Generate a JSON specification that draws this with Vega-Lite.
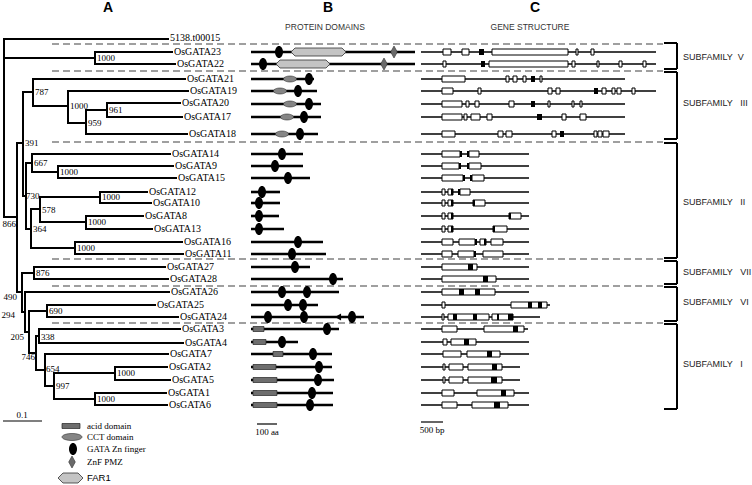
{
"$schema":"https://vega.github.io/schema/vega-lite/v6.json",
"width":752,"height":485,
"autosize":{"type":"fit","contains":"padding"},
"padding":0,
"background":"white",
"config":{"view":{"stroke":null}},
"datasets":{
"sep":[{"y":44,"x":52,"x2":663},{"y":71,"x":52,"x2":663},{"y":142,"x":52,"x2":663},{"y":259,"x":52,"x2":663},{"y":286,"x":52,"x2":663},{"y":323,"x":52,"x2":663}],
"th":[{"y":39,"x":4,"x2":168},{"y":58,"x":4,"x2":95},{"y":52,"x":95,"x2":172},{"y":64,"x":95,"x2":175},{"y":217,"x":4,"x2":17},{"y":143,"x":17,"x2":23},{"y":92,"x":23,"x2":33},{"y":79,"x":33,"x2":185},{"y":106,"x":33,"x2":68},{"y":91,"x":68,"x2":188},{"y":123,"x":68,"x2":86},{"y":110,"x":86,"x2":107},{"y":103,"x":107,"x2":180},{"y":117,"x":107,"x2":182},{"y":134,"x":86,"x2":187},{"y":196,"x":23,"x2":26},{"y":163,"x":26,"x2":32},{"y":154,"x":32,"x2":170},{"y":172,"x":32,"x2":58},{"y":166,"x":58,"x2":173},{"y":178,"x":58,"x2":176},{"y":229,"x":26,"x2":31},{"y":209,"x":31,"x2":40},{"y":197,"x":40,"x2":100},{"y":192,"x":100,"x2":147},{"y":203,"x":100,"x2":151},{"y":222,"x":40,"x2":86},{"y":216,"x":86,"x2":143},{"y":229,"x":86,"x2":152},{"y":248,"x":31,"x2":75},{"y":242,"x":75,"x2":182},{"y":254,"x":75,"x2":183},{"y":292,"x":17,"x2":22},{"y":273,"x":22,"x2":34},{"y":267,"x":34,"x2":165},{"y":279,"x":34,"x2":168},{"y":312,"x":22,"x2":25},{"y":292,"x":25,"x2":169},{"y":332,"x":25,"x2":29},{"y":311,"x":29,"x2":47},{"y":305,"x":47,"x2":155},{"y":317,"x":47,"x2":178},{"y":353,"x":29,"x2":36},{"y":336,"x":36,"x2":39},{"y":329,"x":39,"x2":180},{"y":343,"x":39,"x2":183},{"y":370,"x":36,"x2":45},{"y":354,"x":45,"x2":168},{"y":386,"x":45,"x2":54},{"y":373,"x":54,"x2":115},{"y":367,"x":115,"x2":167},{"y":380,"x":115,"x2":170},{"y":399,"x":54,"x2":95},{"y":393,"x":95,"x2":166},{"y":405,"x":95,"x2":167}],
"tv":[{"x":4,"y":39,"y2":217},{"x":95,"y":52,"y2":64},{"x":17,"y":143,"y2":292},{"x":23,"y":92,"y2":196},{"x":33,"y":79,"y2":106},{"x":68,"y":91,"y2":123},{"x":86,"y":110,"y2":134},{"x":107,"y":103,"y2":117},{"x":26,"y":163,"y2":229},{"x":32,"y":154,"y2":172},{"x":58,"y":166,"y2":178},{"x":31,"y":209,"y2":248},{"x":40,"y":197,"y2":222},{"x":100,"y":192,"y2":203},{"x":86,"y":216,"y2":229},{"x":75,"y":242,"y2":254},{"x":22,"y":273,"y2":312},{"x":34,"y":267,"y2":279},{"x":25,"y":292,"y2":332},{"x":29,"y":311,"y2":353},{"x":47,"y":305,"y2":317},{"x":36,"y":336,"y2":370},{"x":39,"y":329,"y2":343},{"x":45,"y":354,"y2":386},{"x":54,"y":373,"y2":399},{"x":115,"y":367,"y2":380},{"x":95,"y":393,"y2":405}],
"taxa":[{"t":"5138.t00015","x":170,"y":38},{"t":"OsGATA23","x":174,"y":52},{"t":"OsGATA22","x":177,"y":64},{"t":"OsGATA21","x":187,"y":79},{"t":"OsGATA19","x":190,"y":91},{"t":"OsGATA20","x":182,"y":103},{"t":"OsGATA17","x":184,"y":117},{"t":"OsGATA18","x":189,"y":134},{"t":"OsGATA14","x":172,"y":154},{"t":"OsGATA9","x":175,"y":166},{"t":"OsGATA15","x":178,"y":178},{"t":"OsGATA12","x":149,"y":192},{"t":"OsGATA10","x":153,"y":203},{"t":"OsGATA8","x":145,"y":216},{"t":"OsGATA13","x":154,"y":229},{"t":"OsGATA16","x":184,"y":242},{"t":"OsGATA11","x":185,"y":254},{"t":"OsGATA27","x":167,"y":267},{"t":"OsGATA28","x":170,"y":279},{"t":"OsGATA26","x":171,"y":292},{"t":"OsGATA25","x":157,"y":305},{"t":"OsGATA24","x":180,"y":317},{"t":"OsGATA3","x":182,"y":329},{"t":"OsGATA4","x":185,"y":343},{"t":"OsGATA7","x":170,"y":354},{"t":"OsGATA2","x":169,"y":367},{"t":"OsGATA5","x":172,"y":380},{"t":"OsGATA1","x":168,"y":393},{"t":"OsGATA6","x":169,"y":405}],
"bootL":[{"t":"1000","x":97,"y":58},{"t":"787","x":35,"y":92},{"t":"1000","x":70,"y":106},{"t":"961","x":109,"y":110},{"t":"959","x":88,"y":123},{"t":"391","x":25,"y":143},{"t":"667","x":34,"y":163},{"t":"1000","x":60,"y":172},{"t":"730","x":26,"y":196},{"t":"1000","x":102,"y":197},{"t":"578","x":42,"y":210},{"t":"1000","x":88,"y":222},{"t":"364","x":33,"y":229},{"t":"1000","x":77,"y":248},{"t":"876","x":36,"y":273},{"t":"690","x":49,"y":311},{"t":"338","x":41,"y":337},{"t":"654","x":46,"y":369},{"t":"997","x":56,"y":386},{"t":"1000","x":117,"y":373},{"t":"1000","x":97,"y":399}],
"bootR":[{"t":"866","x":16,"y":224},{"t":"490","x":17,"y":297},{"t":"294","x":15,"y":315},{"t":"205","x":24,"y":337},{"t":"746","x":35,"y":357}],
"pl":[{"y":52,"x":251,"x2":415},{"y":64,"x":251,"x2":415},{"y":79,"x":251,"x2":314},{"y":91,"x":251,"x2":317},{"y":104,"x":251,"x2":321},{"y":117,"x":251,"x2":321},{"y":134,"x":251,"x2":318},{"y":154,"x":251,"x2":303},{"y":166,"x":251,"x2":303},{"y":178,"x":251,"x2":310},{"y":192,"x":251,"x2":280},{"y":203,"x":251,"x2":280},{"y":216,"x":251,"x2":279},{"y":229,"x":251,"x2":284},{"y":242,"x":251,"x2":323},{"y":254,"x":251,"x2":326},{"y":267,"x":251,"x2":310},{"y":279,"x":251,"x2":343},{"y":292,"x":251,"x2":339},{"y":305,"x":251,"x2":318},{"y":317,"x":251,"x2":364},{"y":329,"x":251,"x2":339},{"y":342,"x":251,"x2":298},{"y":354,"x":251,"x2":332},{"y":367,"x":251,"x2":332},{"y":380,"x":251,"x2":334},{"y":393,"x":251,"x2":333},{"y":405,"x":251,"x2":333}],
"acid":[{"y":329,"x":253,"x2":264},{"y":342,"x":253,"x2":266},{"y":354,"x":273,"x2":283},{"y":367,"x":253,"x2":276},{"y":380,"x":253,"x2":277},{"y":393,"x":253,"x2":277},{"y":405,"x":253,"x2":277},{"y":426,"x":62,"x2":80}],
"far":[{"g":"OsGATA23","x":291,"y":52,"y2":52},{"g":"OsGATA23","x":295,"y":48,"y2":56},{"g":"OsGATA23","x":342,"y":48,"y2":56},{"g":"OsGATA23","x":346,"y":52,"y2":52},{"g":"OsGATA22","x":276,"y":64,"y2":64},{"g":"OsGATA22","x":280,"y":60,"y2":68},{"g":"OsGATA22","x":326,"y":60,"y2":68},{"g":"OsGATA22","x":330,"y":64,"y2":64},{"g":"legend","x":58,"y":478,"y2":478},{"g":"legend","x":63,"y":473,"y2":483},{"g":"legend","x":78,"y":473,"y2":483},{"g":"legend","x":83,"y":478,"y2":478}],
"sym":[{"k":"cct","x":290,"y":79},{"k":"cct","x":280,"y":91},{"k":"cct","x":290,"y":104},{"k":"cct","x":287,"y":117},{"k":"cct","x":282,"y":134},{"k":"cctL","x":72,"y":437},
{"k":"gata","x":279,"y":52},{"k":"gata","x":263,"y":64},{"k":"gata","x":309,"y":79},{"k":"gata","x":298,"y":91},{"k":"gata","x":309,"y":104},{"k":"gata","x":304,"y":117},{"k":"gata","x":300,"y":134},{"k":"gata","x":282,"y":154},{"k":"gata","x":275,"y":166},{"k":"gata","x":288,"y":178},{"k":"gata","x":262,"y":192},{"k":"gata","x":259,"y":203},{"k":"gata","x":259,"y":216},{"k":"gata","x":259,"y":229},{"k":"gata","x":298,"y":242},{"k":"gata","x":292,"y":254},{"k":"gata","x":295,"y":267},{"k":"gata","x":333,"y":279},{"k":"gata","x":282,"y":292},{"k":"gata","x":307,"y":292},{"k":"gata","x":288,"y":305},{"k":"gata","x":303,"y":305},{"k":"gata","x":268,"y":317},{"k":"gata","x":304,"y":317},{"k":"gata","x":352,"y":317},{"k":"gata","x":327,"y":329},{"k":"gata","x":282,"y":342},{"k":"gata","x":313,"y":354},{"k":"gata","x":319,"y":367},{"k":"gata","x":318,"y":380},{"k":"gata","x":312,"y":393},{"k":"gata","x":310,"y":405},{"k":"gata","x":73,"y":449},
{"k":"pmz","x":394,"y":52},{"k":"pmz","x":384,"y":64},{"k":"pmz","x":72,"y":462},
{"k":"tri","x":338,"y":317}],
"gl":[{"y":52,"x":421,"x2":656},{"y":64,"x":421,"x2":656},{"y":79,"x":421,"x2":625},{"y":91,"x":421,"x2":656},{"y":104,"x":421,"x2":625},{"y":117,"x":421,"x2":625},{"y":134,"x":421,"x2":625},{"y":154,"x":421,"x2":529},{"y":166,"x":421,"x2":529},{"y":178,"x":421,"x2":529},{"y":192,"x":421,"x2":529},{"y":203,"x":421,"x2":529},{"y":216,"x":421,"x2":529},{"y":229,"x":421,"x2":529},{"y":242,"x":421,"x2":529},{"y":254,"x":421,"x2":529},{"y":267,"x":421,"x2":529},{"y":279,"x":421,"x2":529},{"y":292,"x":421,"x2":529},{"y":305,"x":421,"x2":550},{"y":317,"x":421,"x2":540},{"y":329,"x":421,"x2":528},{"y":342,"x":421,"x2":529},{"y":354,"x":421,"x2":529},{"y":367,"x":421,"x2":520},{"y":380,"x":421,"x2":520},{"y":393,"x":421,"x2":529},{"y":405,"x":421,"x2":529}],
"ew":[{"y":52,"x":443,"x2":451},{"y":52,"x":462,"x2":469},{"y":52,"x":492,"x2":568},{"y":52,"x":576,"x2":578},{"y":52,"x":591,"x2":594},
{"y":64,"x":443,"x2":446},{"y":64,"x":489,"x2":568},{"y":64,"x":572,"x2":575},{"y":64,"x":597,"x2":599},{"y":64,"x":619,"x2":622},{"y":64,"x":643,"x2":646},
{"y":79,"x":442,"x2":465},{"y":79,"x":506,"x2":509},{"y":79,"x":513,"x2":517},{"y":79,"x":523,"x2":526},{"y":79,"x":540,"x2":542},
{"y":91,"x":442,"x2":453},{"y":91,"x":478,"x2":481},{"y":91,"x":548,"x2":552},{"y":91,"x":556,"x2":560},{"y":91,"x":602,"x2":606},{"y":91,"x":612,"x2":615},{"y":91,"x":617,"x2":621},{"y":91,"x":632,"x2":635},
{"y":104,"x":442,"x2":462},{"y":104,"x":466,"x2":469},{"y":104,"x":475,"x2":479},{"y":104,"x":509,"x2":514},{"y":104,"x":548,"x2":550},{"y":104,"x":572,"x2":574},{"y":104,"x":580,"x2":582},
{"y":117,"x":442,"x2":462},{"y":117,"x":464,"x2":467},{"y":117,"x":471,"x2":480},{"y":117,"x":487,"x2":492},{"y":117,"x":562,"x2":566},{"y":117,"x":580,"x2":586},
{"y":134,"x":442,"x2":455},{"y":134,"x":498,"x2":503},{"y":134,"x":506,"x2":512},{"y":134,"x":552,"x2":556},{"y":134,"x":594,"x2":597},{"y":134,"x":598,"x2":602},{"y":134,"x":603,"x2":609},
{"y":154,"x":442,"x2":460},{"y":154,"x":469,"x2":479},
{"y":166,"x":442,"x2":459},{"y":166,"x":469,"x2":481},
{"y":178,"x":442,"x2":463},{"y":178,"x":472,"x2":484},
{"y":192,"x":442,"x2":445},{"y":192,"x":448,"x2":453},{"y":192,"x":460,"x2":470},
{"y":203,"x":442,"x2":445},{"y":203,"x":448,"x2":453},{"y":203,"x":473,"x2":485},
{"y":216,"x":442,"x2":445},{"y":216,"x":448,"x2":453},{"y":216,"x":509,"x2":521},
{"y":229,"x":442,"x2":445},{"y":229,"x":448,"x2":453},{"y":229,"x":493,"x2":507},
{"y":242,"x":442,"x2":453},{"y":242,"x":459,"x2":475},{"y":242,"x":480,"x2":486},{"y":242,"x":491,"x2":503},
{"y":254,"x":442,"x2":452},{"y":254,"x":458,"x2":474},{"y":254,"x":483,"x2":503},
{"y":267,"x":442,"x2":477},{"y":279,"x":442,"x2":496},{"y":292,"x":442,"x2":495},
{"y":305,"x":442,"x2":445},{"y":305,"x":511,"x2":547},
{"y":317,"x":442,"x2":444},{"y":317,"x":448,"x2":489},{"y":317,"x":492,"x2":513},
{"y":329,"x":442,"x2":457},{"y":329,"x":484,"x2":524},
{"y":342,"x":443,"x2":447},{"y":342,"x":451,"x2":476},
{"y":354,"x":443,"x2":461},{"y":354,"x":467,"x2":500},
{"y":367,"x":443,"x2":445},{"y":367,"x":449,"x2":463},{"y":367,"x":468,"x2":502},
{"y":380,"x":443,"x2":445},{"y":380,"x":449,"x2":463},{"y":380,"x":468,"x2":502},
{"y":393,"x":442,"x2":454},{"y":393,"x":477,"x2":514},
{"y":405,"x":442,"x2":457},{"y":405,"x":472,"x2":508}],
"eb":[{"y":52,"x":479,"x2":484},{"y":64,"x":481,"x2":485},{"y":79,"x":531,"x2":535},{"y":91,"x":594,"x2":598},{"y":104,"x":531,"x2":535},{"y":117,"x":537,"x2":542},{"y":134,"x":560,"x2":564},
{"y":154,"x":460,"x2":462},{"y":154,"x":467,"x2":469},{"y":166,"x":459,"x2":461},{"y":166,"x":467,"x2":469},{"y":178,"x":463,"x2":465},{"y":178,"x":470,"x2":472},
{"y":192,"x":451,"x2":453},{"y":192,"x":458,"x2":460},{"y":203,"x":451,"x2":453},{"y":203,"x":473,"x2":475},{"y":216,"x":451,"x2":453},{"y":216,"x":509,"x2":511},{"y":229,"x":451,"x2":453},{"y":229,"x":493,"x2":495},
{"y":242,"x":475,"x2":477},{"y":242,"x":484,"x2":486},{"y":254,"x":474,"x2":476},
{"y":267,"x":468,"x2":473},{"y":279,"x":483,"x2":488},{"y":292,"x":459,"x2":464},{"y":292,"x":475,"x2":480},{"y":305,"x":528,"x2":532},{"y":305,"x":538,"x2":542},
{"y":317,"x":453,"x2":457},{"y":317,"x":473,"x2":477},{"y":317,"x":497,"x2":499},{"y":317,"x":508,"x2":513},
{"y":329,"x":513,"x2":518},{"y":342,"x":464,"x2":469},{"y":354,"x":487,"x2":492},{"y":367,"x":492,"x2":497},{"y":380,"x":491,"x2":497},{"y":393,"x":501,"x2":506},{"y":405,"x":494,"x2":500}],
"bv":[{"x":677,"y":43,"y2":69},{"x":677,"y":72,"y2":139},{"x":677,"y":143,"y2":258},{"x":677,"y":261,"y2":284},{"x":677,"y":287,"y2":321},{"x":677,"y":324,"y2":409}],
"bt":[{"y":43,"x":664,"x2":677},{"y":69,"x":664,"x2":677},{"y":72,"x":664,"x2":677},{"y":139,"x":664,"x2":677},{"y":143,"x":664,"x2":677},{"y":258,"x":664,"x2":677},{"y":261,"x":664,"x2":677},{"y":284,"x":664,"x2":677},{"y":287,"x":664,"x2":677},{"y":321,"x":664,"x2":677},{"y":324,"x":664,"x2":677},{"y":409,"x":664,"x2":677}],
"sf":[{"t":"SUBFAMILY\u00a0\u00a0V","x":683,"y":57},{"t":"SUBFAMILY\u00a0\u00a0\u00a0III","x":683,"y":103},{"t":"SUBFAMILY\u00a0\u00a0\u00a0II","x":683,"y":202},{"t":"SUBFAMILY\u00a0\u00a0\u00a0VII","x":683,"y":272},{"t":"SUBFAMILY\u00a0\u00a0\u00a0VI","x":683,"y":302},{"t":"SUBFAMILY\u00a0\u00a0\u00a0I","x":683,"y":364}],
"sb":[{"y":421,"x":3,"x2":42},{"y":424,"x":257,"x2":277},{"y":422,"x":421,"x2":443}],
"sbt":[{"t":"0.1","x":22,"y":415},{"t":"100 aa","x":267,"y":432},{"t":"500 bp","x":432,"y":430}],
"hdr":[{"t":"A","x":108,"y":8},{"t":"B","x":328,"y":8},{"t":"C","x":535,"y":8}],
"sub":[{"t":"PROTEIN  DOMAINS","x":325,"y":27},{"t":"GENE  STRUCTURE","x":530,"y":27}],
"leg":[{"t":"acid domain","x":87,"y":426},{"t":"CCT domain","x":87,"y":437},{"t":"GATA Zn finger","x":87,"y":449},{"t":"ZnF PMZ","x":87,"y":462}],
"leg2":[{"t":"FAR1","x":87,"y":478}]
},
"encoding":{
"x":{"field":"x","type":"quantitative","scale":{"domain":[0,752],"nice":false,"zero":false},"axis":null},
"y":{"field":"y","type":"quantitative","scale":{"domain":[0,485],"nice":false,"zero":false,"reverse":true},"axis":null}
},
"layer":[
{"data":{"name":"sep"},"mark":{"type":"rule","stroke":"#808080","strokeWidth":1.3,"strokeDash":[7,4]},"encoding":{"x2":{"field":"x2"}}},
{"data":{"name":"th"},"mark":{"type":"rule","stroke":"black","strokeWidth":2,"strokeCap":"square"},"encoding":{"x2":{"field":"x2"}}},
{"data":{"name":"tv"},"mark":{"type":"rule","stroke":"black","strokeWidth":2,"strokeCap":"square"},"encoding":{"y2":{"field":"y2"}}},
{"data":{"name":"sb"},"mark":{"type":"rule","stroke":"black","strokeWidth":1.2},"encoding":{"x2":{"field":"x2"}}},
{"data":{"name":"pl"},"mark":{"type":"rule","stroke":"black","strokeWidth":2.6},"encoding":{"x2":{"field":"x2"}}},
{"data":{"name":"acid"},"mark":{"type":"rect","fill":"#6e6e6e","stroke":"#222","strokeWidth":0.7,"height":5},"encoding":{"x2":{"field":"x2"}}},
{"data":{"name":"far"},"mark":{"type":"area","fill":"#c4c4c4","stroke":"#333","strokeWidth":0.8,"fillOpacity":1},"encoding":{"y":{"field":"y","type":"quantitative","stack":null},"y2":{"field":"y2"},"detail":{"field":"g"}}},
{"data":{"name":"sym"},"transform":[{"filter":"datum.k == 'cct'"}],"mark":{"type":"point","filled":true,"fill":"#858585","stroke":"#333","strokeWidth":0.6,"opacity":1,"size":169,"shape":"M-1,0C-1,-0.254,-0.552,-0.46,0,-0.46C0.552,-0.46,1,-0.254,1,0C1,0.254,0.552,0.46,0,0.46C-0.552,0.46,-1,0.254,-1,0Z"}},
{"data":{"name":"sym"},"transform":[{"filter":"datum.k == 'cctL'"}],"mark":{"type":"point","filled":true,"fill":"#858585","stroke":"#333","strokeWidth":0.6,"opacity":1,"size":400,"shape":"M-1,0C-1,-0.193,-0.552,-0.35,0,-0.35C0.552,-0.35,1,-0.193,1,0C1,0.193,0.552,0.35,0,0.35C-0.552,0.35,-1,0.193,-1,0Z"}},
{"data":{"name":"sym"},"transform":[{"filter":"datum.k == 'gata'"}],"mark":{"type":"point","filled":true,"fill":"black","opacity":1,"size":144,"shape":"M-0.667,0C-0.667,-0.552,-0.368,-1,0,-1C0.368,-1,0.667,-0.552,0.667,0C0.667,0.552,0.368,1,0,1C-0.368,1,-0.667,0.552,-0.667,0Z"}},
{"data":{"name":"sym"},"transform":[{"filter":"datum.k == 'pmz'"}],"mark":{"type":"point","filled":true,"fill":"#6a6a6a","stroke":"#333","strokeWidth":0.6,"opacity":1,"size":144,"shape":"M0,-1L0.55,0L0,1L-0.55,0Z"}},
{"data":{"name":"sym"},"transform":[{"filter":"datum.k == 'tri'"}],"mark":{"type":"point","filled":true,"fill":"black","opacity":1,"size":50,"shape":"triangle-left"}},
{"data":{"name":"gl"},"mark":{"type":"rule","stroke":"black","strokeWidth":1.6},"encoding":{"x2":{"field":"x2"}}},
{"data":{"name":"ew"},"mark":{"type":"rect","fill":"white","stroke":"black","strokeWidth":1,"height":6},"encoding":{"x2":{"field":"x2"}}},
{"data":{"name":"eb"},"mark":{"type":"rect","fill":"black","height":6},"encoding":{"x2":{"field":"x2"}}},
{"data":{"name":"bv"},"mark":{"type":"rule","stroke":"black","strokeWidth":2},"encoding":{"y2":{"field":"y2"}}},
{"data":{"name":"bt"},"mark":{"type":"rule","stroke":"black","strokeWidth":2},"encoding":{"x2":{"field":"x2"}}},
{"data":{"name":"taxa"},"mark":{"type":"text","font":"Liberation Serif","fontSize":10,"align":"left","baseline":"middle","fill":"black"},"encoding":{"text":{"field":"t"}}},
{"data":{"name":"bootL"},"mark":{"type":"text","font":"Liberation Serif","fontSize":9,"align":"left","baseline":"middle","fill":"black"},"encoding":{"text":{"field":"t"}}},
{"data":{"name":"bootR"},"mark":{"type":"text","font":"Liberation Serif","fontSize":9,"align":"right","baseline":"middle","fill":"black"},"encoding":{"text":{"field":"t"}}},
{"data":{"name":"sf"},"mark":{"type":"text","font":"Liberation Sans","fontSize":9,"align":"left","baseline":"middle","fill":"#222"},"encoding":{"text":{"field":"t"}}},
{"data":{"name":"sbt"},"mark":{"type":"text","font":"Liberation Serif","fontSize":9,"align":"center","baseline":"middle","fill":"black"},"encoding":{"text":{"field":"t"}}},
{"data":{"name":"hdr"},"mark":{"type":"text","font":"Liberation Sans","fontSize":14,"fontWeight":"bold","align":"center","baseline":"middle","fill":"black"},"encoding":{"text":{"field":"t"}}},
{"data":{"name":"sub"},"mark":{"type":"text","font":"Liberation Sans","fontSize":8.5,"align":"center","baseline":"middle","fill":"#333"},"encoding":{"text":{"field":"t"}}},
{"data":{"name":"leg"},"mark":{"type":"text","font":"Liberation Serif","fontSize":9,"align":"left","baseline":"middle","fill":"black"},"encoding":{"text":{"field":"t"}}},
{"data":{"name":"leg2"},"mark":{"type":"text","font":"Liberation Sans","fontSize":9.5,"align":"left","baseline":"middle","fill":"black"},"encoding":{"text":{"field":"t"}}}
]
}
